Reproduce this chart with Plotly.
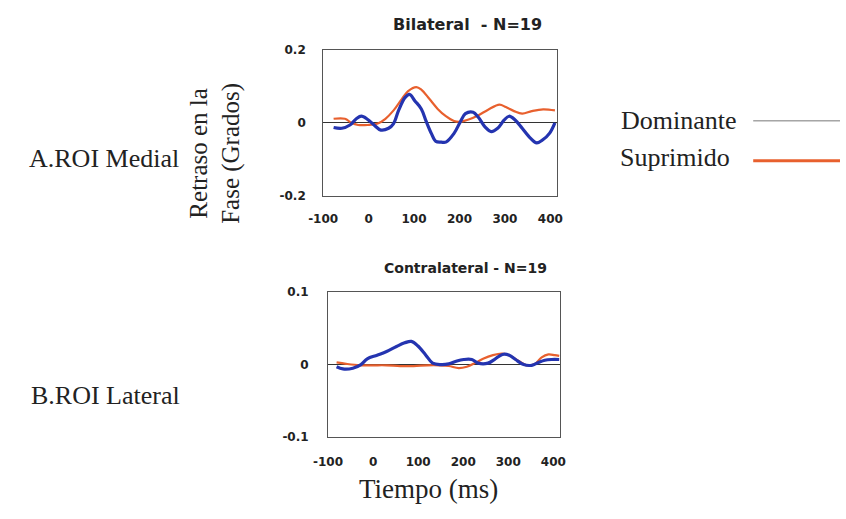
import plotly.graph_objects as go

W, H = 846, 519

# ---- Data ----
# A. ROI Medial (Bilateral - N=19)
top_dom_t = [-77, -59, -41, -27, -16, -2, 12, 27, 44, 55, 66, 80, 90, 102, 116, 127, 138, 148, 160, 170,
             188, 202, 213, 230, 241, 256, 270, 284, 298, 309, 323, 338, 356, 370, 384, 398, 410]
top_dom_v = [-0.013, -0.015, -0.006, 0.011, 0.018, 0.009, -0.006, -0.020, -0.015, -0.002, 0.034, 0.069,
             0.078, 0.060, 0.038, 0.003, -0.029, -0.051, -0.053, -0.053,
             -0.029, 0.003, 0.025, 0.029, 0.016, -0.011, -0.024, -0.015, 0.007, 0.018, 0.007, -0.015,
             -0.042, -0.055, -0.046, -0.029, 0.000]
top_sup_t = [-77, -52, -38, -23, -2, 20, 37, 55, 73, 87, 105, 116, 134, 152, 170, 188, 202, 220, 241,
             263, 288, 302, 320, 338, 359, 384, 410]
top_sup_v = [0.011, 0.011, 0.000, -0.006, -0.006, -0.002, 0.011, 0.034, 0.065, 0.087, 0.098, 0.091,
             0.065, 0.038, 0.018, 0.005, 0.003, 0.009, 0.020, 0.036, 0.050, 0.043, 0.032, 0.025,
             0.032, 0.037, 0.034]

# B. ROI Lateral (Contralateral - N=19)
bot_dom_t = [-81, -67, -45, -27, -13, 9, 30, 52, 70, 85, 99, 117, 132, 150, 168, 186, 201, 219, 233,
             255, 269, 287, 302, 316, 334, 352, 367, 381, 396, 413]
bot_dom_v = [-0.003, -0.006, -0.005, 0.000, 0.008, 0.013, 0.018, 0.025, 0.030, 0.032, 0.026, 0.013,
             0.002, 0.000, 0.001, 0.005, 0.007, 0.007, 0.002, 0.002, 0.007, 0.014, 0.013, 0.007,
             0.000, -0.001, 0.003, 0.006, 0.007, 0.007]
bot_sup_t = [-81, -60, -30, 0, 30, 60, 90, 120, 147, 168, 190, 208, 226, 244, 266, 287, 305, 323,
             341, 359, 374, 389, 403, 413]
bot_sup_v = [0.003, 0.001, -0.001, -0.001, -0.001, -0.002, -0.002, -0.001, -0.001, -0.002, -0.005,
             -0.003, 0.002, 0.008, 0.013, 0.015, 0.012, 0.005, -0.001, 0.001, 0.010, 0.014, 0.013,
             0.012]

x_ticks = [-100, 0, 100, 200, 300, 400]
x_labels = ["-100", "0", "100", "200", "300", "400"]
top_y_ticks = [-0.2, 0, 0.2]
top_y_labels = ["-0.2", "0", "0.2"]
bot_y_ticks = [-0.1, 0, 0.1]
bot_y_labels = ["-0.1", "0", "0.1"]

BLUE = "#2434b0"
ORANGE = "#e8602e"


def px(x):
    return x / W


def py(y):
    return 1 - y / H


fig = go.Figure()
fig.add_trace(go.Scatter(x=top_sup_t, y=top_sup_v, mode="lines", line=dict(color=ORANGE, width=2.2, shape="spline"),
                         xaxis="x", yaxis="y", showlegend=False))
fig.add_trace(go.Scatter(x=top_dom_t, y=top_dom_v, mode="lines", line=dict(color=BLUE, width=3.2, shape="spline"),
                         xaxis="x", yaxis="y", showlegend=False))
fig.add_trace(go.Scatter(x=bot_sup_t, y=bot_sup_v, mode="lines", line=dict(color=ORANGE, width=2.2, shape="spline"),
                         xaxis="x2", yaxis="y2", showlegend=False))
fig.add_trace(go.Scatter(x=bot_dom_t, y=bot_dom_v, mode="lines", line=dict(color=BLUE, width=3.2, shape="spline"),
                         xaxis="x2", yaxis="y2", showlegend=False))

tickfont = dict(family="DejaVu Sans", size=12, color="#222", weight="bold")
axcommon = dict(showgrid=False, showline=True, mirror=True, linecolor="#555", linewidth=1, ticks="",
                tickfont=tickfont)

fig.update_layout(
    width=W, height=H, margin=dict(l=0, r=0, t=0, b=0),
    paper_bgcolor="white", plot_bgcolor="white", showlegend=False,
    xaxis=dict(domain=[px(316), px(556)], range=[-100, 415], tickvals=x_ticks, ticktext=x_labels, anchor="y",
               zeroline=False, ticklabelstandoff=12, **axcommon),
    yaxis=dict(domain=[py(194), py(44)], range=[-0.2, 0.2], tickvals=top_y_ticks, ticktext=top_y_labels,
               anchor="x", zeroline=True, zerolinecolor="#333", zerolinewidth=1, ticklabelstandoff=14, **axcommon),
    xaxis2=dict(domain=[px(321), px(559)], range=[-100, 415], tickvals=x_ticks, ticktext=x_labels, anchor="y2",
                zeroline=False, ticklabelstandoff=14, **axcommon),
    yaxis2=dict(domain=[py(442), py(293)], range=[-0.1, 0.1], tickvals=bot_y_ticks, ticktext=bot_y_labels,
                anchor="x2", zeroline=True, zerolinecolor="#333", zerolinewidth=1, ticklabelstandoff=16, **axcommon),
)

serif = "Liberation Serif"
ann = []
ann.append(dict(text="Bilateral  - N=19", x=px(464), y=py(18), font=dict(family="DejaVu Sans", size=16, color="#222", weight="bold")))
ann.append(dict(text="Contralateral - N=19", x=px(462), y=py(268), font=dict(family="DejaVu Sans", size=14, color="#222", weight="bold")))
ann.append(dict(text="A.ROI Medial", x=px(91), y=py(156), font=dict(family=serif, size=26, color="#222")))
ann.append(dict(text="B.ROI Lateral", x=px(93), y=py(399), font=dict(family=serif, size=26, color="#222")))
ann.append(dict(text="Retraso en la<br>Fase (Grados)", x=px(206), y=py(150), textangle=-90,
                font=dict(family=serif, size=25, color="#222")))
ann.append(dict(text="Tiempo (ms)", x=px(424), y=py(495), font=dict(family=serif, size=27, color="#222")))
ann.append(dict(text="Dominante", x=px(619), y=py(117), xanchor="left", font=dict(family=serif, size=26, color="#222")))
ann.append(dict(text="Suprimido", x=px(618), y=py(155), xanchor="left", font=dict(family=serif, size=26, color="#222")))
for a in ann:
    a.setdefault("xanchor", "center")
    a.update(xref="paper", yref="paper", yanchor="middle", showarrow=False)
fig.update_layout(annotations=ann)

fig.add_shape(type="line", xref="paper", yref="paper", x0=px(757), x1=px(846), y0=py(117), y1=py(117),
              line=dict(color="#777", width=1))
fig.add_shape(type="line", xref="paper", yref="paper", x0=px(757), x1=px(846), y0=py(158), y1=py(158),
              line=dict(color=ORANGE, width=3))

fig.write_html("out.html")
